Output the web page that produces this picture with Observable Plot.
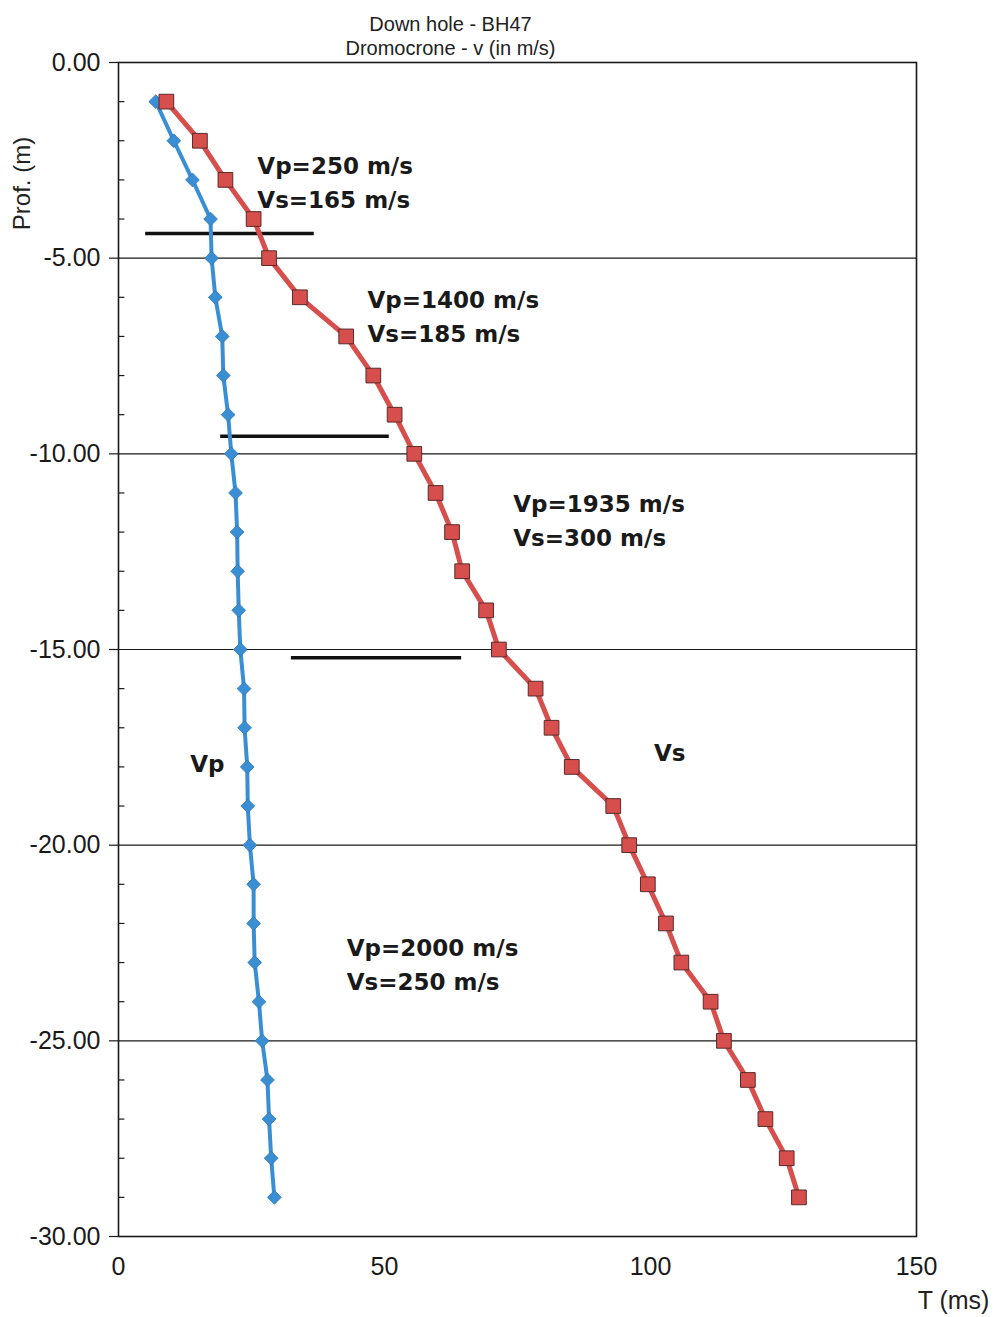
<!DOCTYPE html>
<html><head><meta charset="utf-8">
<script src="https://cdn.jsdelivr.net/npm/d3@7"></script>
<script src="https://cdn.jsdelivr.net/npm/@observablehq/plot@0.6"></script>
<style>body{margin:0;background:#fff;} svg{display:block}</style>
</head><body><div id="chart"></div>
<script>
// Depths (m) of the measurement points
const depths = [-1,-2,-3,-4,-5,-6,-7,-8,-9,-10,-11,-12,-13,-14,-15,-16,-17,-18,-19,-20,-21,-22,-23,-24,-25,-26,-27,-28,-29];
// Travel times (ms)
const vpTimes = [7.0,10.4,13.9,17.3,17.5,18.2,19.5,19.7,20.6,21.2,22.0,22.3,22.4,22.6,22.9,23.6,23.7,24.2,24.3,24.7,25.4,25.4,25.6,26.4,27.0,28.0,28.3,28.7,29.3];
const vsTimes = [9.0,15.3,20.1,25.4,28.3,34.1,42.8,47.9,51.9,55.6,59.6,62.7,64.6,69.1,71.5,78.4,81.4,85.2,93.0,96.0,99.5,102.9,105.8,111.3,113.8,118.3,121.6,125.6,127.9];

// Axis ticks
const xTicks = [0,50,100,150];
const yMajorTicks = [0,-5,-10,-15,-20,-25,-30];
const yMinorTicks = [-1,-2,-3,-4,-6,-7,-8,-9,-11,-12,-13,-14,-16,-17,-18,-19,-21,-22,-23,-24,-26,-27,-28,-29];

// Layer boundaries (depth, T start, T end)
const layerDepths = [-4.37,-9.55,-15.21];
const layerStarts = [5.1,19.2,32.5];
const layerEnds = [36.8,50.9,64.5];

// Velocity annotations
const annoText = ["Vp=250 m/s\nVs=165 m/s","Vp=1400 m/s\nVs=185 m/s","Vp=1935 m/s\nVs=300 m/s","Vp=2000 m/s\nVs=250 m/s"];
const annoT = [26.1,46.8,74.2,42.9];
const annoDepth = [-3.01,-6.43,-11.65,-23.0];

// Series labels
const seriesLabels = ["Vp","Vs"];
const seriesLabelT = [16.7,103.6];
const seriesLabelDepth = [-17.93,-17.67];

const titleLines = ["Down hole - BH47","Dromocrone - v (in m/s)"];

const vp = depths.map((d,i)=>({depth:d, t:vpTimes[i]}));
const vs = depths.map((d,i)=>({depth:d, t:vsTimes[i]}));
const layers = layerDepths.map((d,i)=>({depth:d, x1:layerStarts[i], x2:layerEnds[i]}));
const annos = annoText.map((s,i)=>({text:s, t:annoT[i], depth:annoDepth[i]}));
const sLabels = seriesLabels.map((s,i)=>({text:s, t:seriesLabelT[i], depth:seriesLabelDepth[i]}));

const blue = "#3a8fd4", red = "#d64f4c";
const boldFont = "'DejaVu Sans', sans-serif";

const chart = Plot.plot({
  width: 995, height: 1317,
  marginTop: 62, marginLeft: 118, marginRight: 79, marginBottom: 81,
  style: {fontFamily: "'Liberation Sans', Arial, sans-serif", fontSize: "25px", background: "#fff", color: "#1a1a1a"},
  x: {domain: [0,150]},
  y: {domain: [-30,0]},
  marks: [
    Plot.ruleY(yMajorTicks, {stroke: "#1a1a1a", strokeWidth: 1.2}),
    Plot.ruleY(yMinorTicks, {x1: 0, x2: 1.2, stroke: "#1a1a1a", strokeWidth: 1.2}),
    Plot.frame({stroke: "#1a1a1a", strokeWidth: 1.6}),
    Plot.axisX({ticks: xTicks, tickSize: 0, tickPadding: 21, label: null, tickFormat: d => String(d)}),
    Plot.axisY({ticks: yMajorTicks, tickSize: 9, tickPadding: 9, label: null, tickFormat: d => d.toFixed(2), strokeWidth: 1.2}),
    Plot.ruleY(layers, {y: "depth", x1: "x1", x2: "x2", stroke: "#111", strokeWidth: 3.5}),
    Plot.line(vp, {x: "t", y: "depth", stroke: blue, strokeWidth: 4}),
    Plot.dot(vp, {x: "t", y: "depth", symbol: "diamond2", r: 6.2, fill: blue, stroke: "#2c77b5", strokeWidth: 0.8}),
    Plot.line(vs, {x: "t", y: "depth", stroke: red, strokeWidth: 5}),
    Plot.dot(vs, {x: "t", y: "depth", symbol: "square", r: 8.3, fill: red, stroke: "#5a2a2a", strokeWidth: 1}),
    Plot.text(annos, {x: "t", y: "depth", text: "text", textAnchor: "start", lineAnchor: "middle", lineHeight: 1.48, fontSize: 23, fontWeight: "bold", fontFamily: boldFont, fill: "#1a1a1a"}),
    Plot.text(sLabels, {x: "t", y: "depth", text: "text", textAnchor: "middle", lineAnchor: "middle", fontSize: 23, fontWeight: "bold", fontFamily: boldFont, fill: "#1a1a1a"}),
    Plot.text([titleLines[0]], {frameAnchor: "top-left", text: d => d, dx: 332, dy: -38, textAnchor: "middle", lineAnchor: "middle", fontSize: 20, fill: "#222"}),
    Plot.text([titleLines[1]], {frameAnchor: "top-left", text: d => d, dx: 332, dy: -14, textAnchor: "middle", lineAnchor: "middle", fontSize: 20, fill: "#222"}),
    Plot.text(["Prof. (m)"], {frameAnchor: "top-left", text: d => d, dx: -96, dy: 121, rotate: -90, textAnchor: "middle", lineAnchor: "middle", fontSize: 24, fill: "#222"}),
    Plot.text(["T (ms)"], {frameAnchor: "bottom-right", text: d => d, dx: 37, dy: 64, textAnchor: "middle", lineAnchor: "middle", fontSize: 25, fill: "#222"})
  ]
});
document.getElementById("chart").appendChild(chart);
</script>
</body></html>
